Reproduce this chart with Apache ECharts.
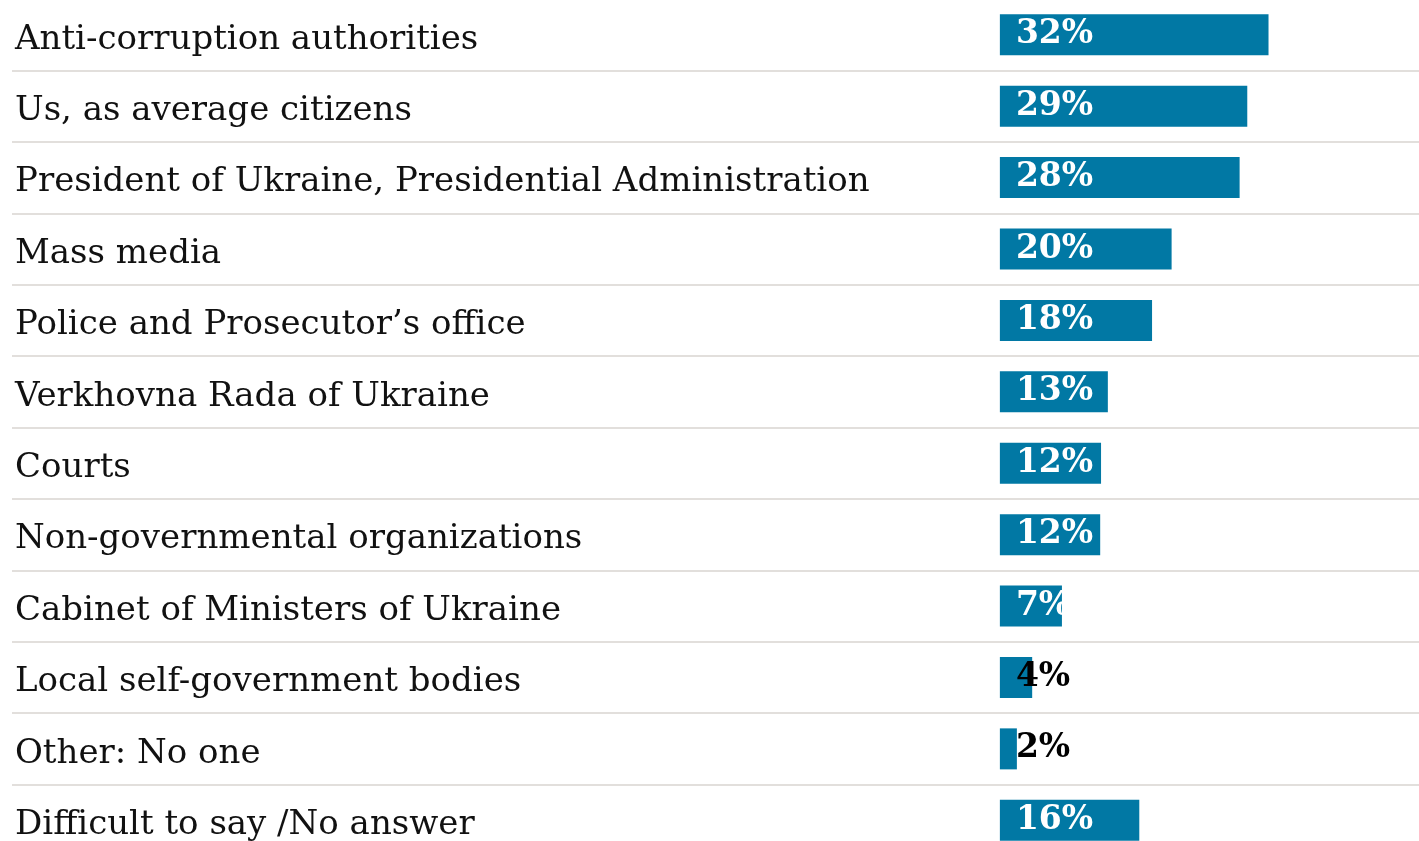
<!DOCTYPE html>
<html><head><meta charset="utf-8">
<script src="https://cdn.jsdelivr.net/npm/echarts@6/dist/echarts.min.js"></script>
<style>html,body{margin:0;padding:0;background:#fff;overflow:hidden}#c{width:1419px;height:857px;position:relative;top:-1px}</style>
</head><body><div id="c"></div>
<script>
const categories = [
  "Anti-corruption authorities",
  "Us, as average citizens",
  "President of Ukraine, Presidential Administration",
  "Mass media",
  "Police and Prosecutor\u2019s office",
  "Verkhovna Rada of Ukraine",
  "Courts",
  "Non-governmental organizations",
  "Cabinet of Ministers of Ukraine",
  "Local self-government bodies",
  "Other: No one",
  "Difficult to say /No answer"
];
const values = [31.6, 29.1, 28.2, 20.2, 17.9, 12.7, 11.9, 11.8, 7.3, 3.8, 2.0, 16.4];
const valueLabels = ["32%", "29%", "28%", "20%", "18%", "13%", "12%", "12%", "7%", "4%", "2%", "16%"];

const chart = echarts.init(document.getElementById('c'));
const serif = "Georgia, 'DejaVu Serif', serif";
chart.setOption({
  animation: false,
  grid: { left: 12, right: 0, top: 0, bottom: 0, containLabel: false },
  xAxis: {
    type: 'value', min: -116.2, max: 49.3,
    show: false, splitLine: { show: false }
  },
  yAxis: {
    type: 'category', inverse: true, data: categories,
    axisLine: { show: false }, axisTick: { show: false },
    axisLabel: {
      align: 'left', margin: -3,
      formatter: v => '{t|' + v + '}',
      rich: { t: { color: '#111', fontFamily: serif, fontSize: 34, padding: [10, 0, 0, 0] } }
    },
    splitLine: { show: true, lineStyle: { color: '#d8d4d0', width: 1.5 } }
  },
  series: [{
    type: 'bar', barWidth: 41,
    data: values.map((v, i) => ({
      value: v,
      label: { color: v < 5 ? '#000' : '#fff' }
    })),
    itemStyle: { color: '#0178a4' },
    label: {
      show: true, position: 'insideLeft', distance: 16,
      fontFamily: serif, fontWeight: 'bold', fontSize: 33,
      formatter: p => valueLabels[p.dataIndex]
    }
  }]
});
</script></body></html>
